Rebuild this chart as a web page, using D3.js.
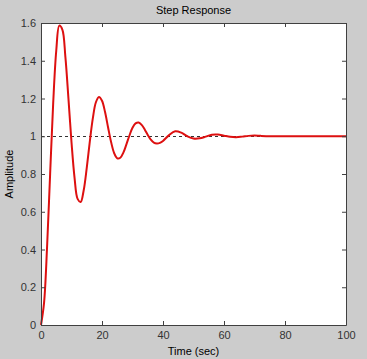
<!DOCTYPE html>
<html>
<head>
<meta charset="utf-8">
<script src="https://cdn.jsdelivr.net/npm/d3@7"></script>
<style>
  html, body { margin: 0; padding: 0; background: #cccccc; }
  svg { display: block; }
  text { font-family: "Liberation Sans", Arial, sans-serif; }
</style>
</head>
<body>
<div id="chart"></div>
<script>
// Step response (time in sec, amplitude)
const times = [0, 1, 2, 3, 4, 5, 6, 7, 8, 9, 10, 11, 12, 13, 14, 15, 16, 17, 18, 19,
  20, 21, 22, 23, 24, 25, 26, 27, 28, 29, 30, 31, 32, 33, 34, 35, 36, 37, 38, 39,
  40, 42, 44, 46, 48, 50, 52, 54, 56, 58, 60, 62, 64, 66, 68, 70, 72, 75, 80, 90, 100]
const amplitude = [0, 0.117, 0.417, 0.803, 1.177, 1.453, 1.586, 1.565, 1.419, 1.199,
  0.968, 0.780, 0.668, 0.652, 0.714, 0.833, 0.972, 1.096, 1.180, 1.208,
  1.188, 1.128, 1.046, 0.968, 0.910, 0.883, 0.886, 0.913, 0.957, 1.004,
  1.045, 1.068, 1.073, 1.060, 1.036, 1.007, 0.982, 0.966, 0.962, 0.965,
  0.975, 1.006, 1.026, 1.019, 1.000, 0.988, 0.989, 0.998, 1.008, 1.009,
  1.003, 0.997, 0.995, 0.998, 1.002, 1.004, 1.002, 1.000, 1.000, 1.000, 1.000]
const xTicks = [0, 20, 40, 60, 80, 100]
const yTicks = [0, 0.2, 0.4, 0.6, 0.8, 1, 1.2, 1.4, 1.6]
const steadyState = 1

const width = 367
const height = 359
const margin = { top: 23, right: 21, bottom: 34, left: 41 }
const innerW = width - margin.left - margin.right
const innerH = height - margin.top - margin.bottom
const axisColor = '#404040'

const svg = d3.select('#chart')
  .append('svg')
  .attr('width', width)
  .attr('height', height)

svg.append('rect')
  .attr('width', width)
  .attr('height', height)
  .attr('fill', '#cccccc')

const g = svg.append('g')
  .attr('transform', `translate(${margin.left}, ${margin.top})`)

const x = d3.scaleLinear().domain([0, 100]).range([0, innerW])
const y = d3.scaleLinear().domain([0, 1.6]).range([innerH, 0])

g.append('rect')
  .attr('width', innerW)
  .attr('height', innerH)
  .attr('fill', '#ffffff')

// dashed steady-state line
g.append('line')
  .attr('x1', x(0))
  .attr('x2', x(100))
  .attr('y1', Math.round(y(steadyState)) + 0.5)
  .attr('y2', Math.round(y(steadyState)) + 0.5)
  .attr('stroke', '#333333')
  .attr('stroke-width', 1)
  .attr('stroke-dasharray', '3,3')

const points = times.map((t, i) => ({ t, a: amplitude[i] }))

g.append('path')
  .datum(points)
  .attr('fill', 'none')
  .attr('stroke', '#dd1010')
  .attr('stroke-width', 2)
  .attr('stroke-linejoin', 'round')
  .attr('d', d3.line()
    .x(d => x(d.t))
    .y(d => y(d.a))
    .curve(d3.curveCatmullRom.alpha(0.5)))

// axes: ticks pointing inward, box on all four sides
const styleAxis = sel => {
  sel.select('.domain').attr('stroke', axisColor)
  sel.selectAll('.tick line').attr('stroke', axisColor)
  sel.selectAll('.tick text')
    .attr('fill', '#333333')
    .style('font-size', '11px')
    .style('font-family', '"Liberation Sans", Arial, sans-serif')
}

g.append('g')
  .attr('transform', `translate(0, ${innerH})`)
  .call(d3.axisBottom(x).tickValues(xTicks).tickFormat(d3.format('d'))
    .tickSize(-4).tickSizeOuter(0).tickPadding(6))
  .call(styleAxis)

g.append('g')
  .call(d3.axisTop(x).tickValues(xTicks).tickFormat('')
    .tickSize(-4).tickSizeOuter(0))
  .call(styleAxis)

g.append('g')
  .call(d3.axisLeft(y).tickValues(yTicks).tickFormat(d => String(+d.toFixed(1)))
    .tickSize(-4).tickSizeOuter(0).tickPadding(5))
  .call(styleAxis)

g.append('g')
  .attr('transform', `translate(${innerW}, 0)`)
  .call(d3.axisRight(y).tickValues(yTicks).tickFormat('')
    .tickSize(-4).tickSizeOuter(0))
  .call(styleAxis)

// titles
svg.append('text')
  .attr('x', margin.left + innerW / 2)
  .attr('y', 14)
  .attr('text-anchor', 'middle')
  .attr('fill', '#000000')
  .style('font-size', '11px')
  .text('Step Response')

svg.append('text')
  .attr('x', margin.left + innerW / 2)
  .attr('y', 355)
  .attr('text-anchor', 'middle')
  .attr('fill', '#000000')
  .style('font-size', '11px')
  .text('Time (sec)')

svg.append('text')
  .attr('transform', `translate(13, ${margin.top + innerH / 2}) rotate(-90)`)
  .attr('text-anchor', 'middle')
  .attr('fill', '#000000')
  .style('font-size', '11px')
  .text('Amplitude')
</script>
</body>
</html>
